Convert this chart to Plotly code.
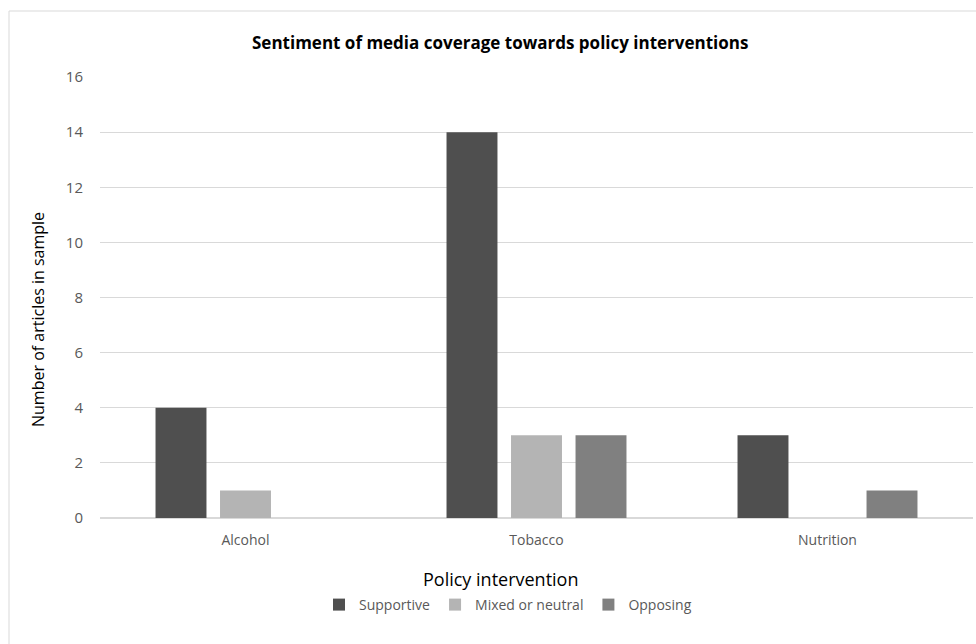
import plotly.graph_objects as go

categories = ["Alcohol", "Tobacco", "Nutrition"]
supportive = [4, 14, 3]
mixed = [1, 3, 0]
opposing = [0, 3, 1]
series_names = ["Supportive", "Mixed or neutral", "Opposing"]
series_colors = ["#4f4f4f", "#b4b4b4", "#808080"]
y_ticks = [0, 2, 4, 6, 8, 10, 12, 14, 16]

FONT = "Open Sans"
W, H = 976, 644
L, R, T, B = 100, 3, 77, 126
pw, ph = W - L - R, H - T - B

def px_x(x):
    return (x - L) / pw

def px_y(y):
    return (H - B - y) / ph

fig = go.Figure()
for name, vals, col in zip(series_names, [supportive, mixed, opposing], series_colors):
    fig.add_trace(go.Bar(x=categories, y=vals, name=name, marker_color=col,
                         marker_line_width=0))

fig.update_layout(
    width=W, height=H,
    margin=dict(l=L, r=R, t=T, b=B),
    paper_bgcolor="white", plot_bgcolor="white",
    barmode="group", bargap=0.335, bargroupgap=0.21,
    font=dict(family=FONT, color="#595959", size=14),
    showlegend=True,
    legend=dict(orientation="h", x=px_x(508), xanchor="center", y=px_y(605), yanchor="middle",
                font=dict(size=14, color="#595959"), itemwidth=30, tracegroupgap=0),
    xaxis=dict(showgrid=False, showline=False, ticks="", ticklabelstandoff=12,
               tickfont=dict(size=14, color="#595959")),
    yaxis=dict(range=[0, 16], tickvals=y_ticks, showgrid=True, gridcolor="#d9d9d9", gridwidth=1,
               zeroline=True, zerolinecolor="#d9d9d9", zerolinewidth=1.5, showline=False,
               ticks="", ticklabelstandoff=16, tickfont=dict(size=15, color="#595959")),
    shapes=[dict(type="rect", xref="paper", yref="paper",
                 x0=px_x(9), x1=px_x(990), y0=px_y(660), y1=px_y(11),
                 line=dict(color="#d9d9d9", width=1), fillcolor="rgba(0,0,0,0)", layer="below")],
    annotations=[
        dict(text="<b>Sentiment of media coverage towards policy interventions</b>",
             xref="paper", yref="paper", x=px_x(500), y=px_y(43), xanchor="center", yanchor="middle",
             showarrow=False, font=dict(size=17, color="black", family=FONT)),
        dict(text="Policy intervention", xref="paper", yref="paper", x=px_x(501), y=px_y(579),
             xanchor="center", yanchor="middle", showarrow=False,
             font=dict(size=18, color="black", family=FONT)),
        dict(text="Number of articles in sample", xref="paper", yref="paper", x=px_x(38), y=px_y(320),
             xanchor="center", yanchor="middle", textangle=-90, showarrow=False,
             font=dict(size=16, color="black", family=FONT)),
    ],
)

fig.write_html("out.html")
